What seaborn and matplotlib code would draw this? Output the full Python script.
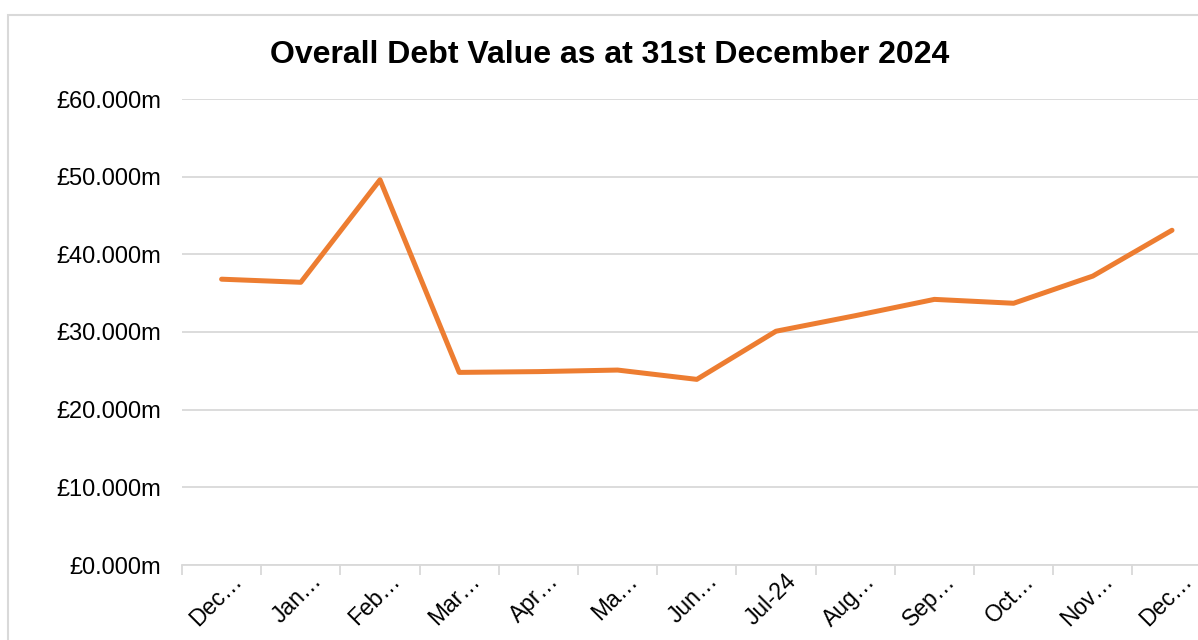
import matplotlib
matplotlib.use("Agg")
import matplotlib.pyplot as plt
import matplotlib.transforms as mtransforms
import seaborn as sns
import pandas as pd
from matplotlib.patches import Rectangle
from matplotlib.ticker import FuncFormatter, FixedLocator

months = ["Dec…", "Jan…", "Feb…", "Mar…", "Apr…", "Ma…", "Jun…", "Jul-24",
          "Aug…", "Sep…", "Oct…", "Nov…", "Dec…"]
debt_m = [36.8, 36.4, 49.6, 24.8, 24.9, 25.1, 23.9, 30.1, 32.1, 34.2, 33.7, 37.2, 43.1]
y_ticks = [0, 10, 20, 30, 40, 50, 60]

sns.set_theme(style="white")
plt.rcParams['font.family'] = ['Liberation Sans', 'DejaVu Sans']

fig = plt.figure(figsize=(11.98, 6.40), dpi=100)
# outer chart border (cropped at right and bottom)
fig.patches.append(Rectangle((8/1198, -0.1), 1.2, 1 - 15/640 + 0.1,
                             transform=fig.transFigure, fill=False,
                             edgecolor="#D9D9D9", linewidth=1.5))

ax = fig.add_axes([182/1198, 1 - 565/640, (13*79.2)/1198, (565-99)/640])

df = pd.DataFrame({"pos": list(range(len(months))), "value": debt_m})
sns.lineplot(data=df, x="pos", y="value", ax=ax, color="#ED7D31", linewidth=3.6)

ax.set_xlim(-0.5, len(months) - 0.5)
ax.set_ylim(0, 60)
ax.yaxis.set_major_locator(FixedLocator(y_ticks))
ax.yaxis.set_major_formatter(FuncFormatter(lambda v, p: f"£{v:.3f}m"))
ax.grid(axis="y", color="#D9D9D9", linewidth=1.3)
ax.set_axisbelow(True)
for s in ["left", "right", "top"]:
    ax.spines[s].set_visible(False)
ax.spines["bottom"].set_color("#D9D9D9")
ax.spines["bottom"].set_linewidth(1.3)

ax.set_xticks(range(len(months)))
ax.set_xticklabels(months, rotation=45, ha="right", va="center", rotation_mode="anchor")
ax.set_xticks([i - 0.5 for i in range(len(months) + 1)], minor=True)
ax.tick_params(axis="x", which="major", length=0, labelsize=16.5, pad=9, colors="black")
ax.tick_params(axis="x", which="minor", length=7, width=1.3, color="#D9D9D9", direction="out", bottom=True)
ax.tick_params(axis="y", length=0, labelsize=17, pad=15, colors="black")
off = mtransforms.ScaledTranslation(17/100, 0, fig.dpi_scale_trans)
for lab in ax.get_xticklabels():
    lab.set_transform(lab.get_transform() + off)
ax.set_xlabel("")
ax.set_ylabel("")

fig.text(610/1198, 1 - 55/640, "Overall Debt Value as at 31st December 2024",
         ha="center", va="center", fontsize=23, fontweight="bold", color="black")

fig.savefig("out.png", dpi=100, facecolor="white")
